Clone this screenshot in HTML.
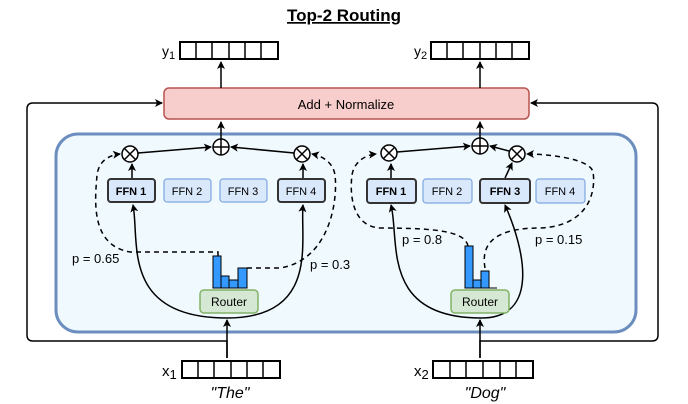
<!DOCTYPE html>
<html><head><style>body{margin:0;background:#fff}svg{display:block}</style></head><body>
<svg width="688" height="404" viewBox="0 0 688 404" xmlns="http://www.w3.org/2000/svg" font-family="Liberation Sans, sans-serif">
<defs>
<marker id="a" markerWidth="8" markerHeight="8" refX="7" refY="4" orient="auto" markerUnits="userSpaceOnUse"><path d="M0,0 L8,4 L0,8 L2,4 Z" fill="#000"/></marker>
</defs>
<text x="344" y="21" text-anchor="middle" font-size="17" font-weight="bold" text-decoration="underline" fill="#000">Top-2 Routing</text>
<!-- output vectors -->
<g fill="#fff" stroke="#000" stroke-width="2">
<rect x="180" y="42" width="98" height="17"/><rect x="431" y="42" width="98" height="17"/>
<rect x="182" y="361" width="98" height="17"/><rect x="433" y="361" width="100" height="17"/>
</g>
<g stroke="#000" stroke-width="1.5">
<path d="M196,42v17M212,42v17M229,42v17M245,42v17M261,42v17"/>
<path d="M447,42v17M463,42v17M480,42v17M496,42v17M512,42v17"/>
<path d="M198,361v17M214,361v17M231,361v17M247,361v17M263,361v17"/>
<path d="M450,361v17M466,361v17M483,361v17M500,361v17M516,361v17"/>
</g>
<text x="162" y="56" font-size="14">y<tspan font-size="11" dy="3">1</tspan></text>
<text x="414" y="56" font-size="14">y<tspan font-size="11" dy="3">2</tspan></text>
<text x="162" y="376" font-size="15">x<tspan font-size="13" dy="3">1</tspan></text>
<text x="414" y="376" font-size="15">x<tspan font-size="13" dy="3">2</tspan></text>
<text x="230" y="398" text-anchor="middle" font-size="16" font-style="italic">"The"</text>
<text x="485" y="398" text-anchor="middle" font-size="16" font-style="italic">"Dog"</text>
<!-- container -->
<rect x="56" y="134" width="580" height="198" rx="22" fill="#f0f9fe" stroke="#6c8ebf" stroke-width="3"/>
<!-- add normalize -->
<rect x="164" y="88" width="365" height="31" rx="5" fill="#f8cecc" stroke="#b85450" stroke-width="1.5"/>
<text x="346" y="109" text-anchor="middle" font-size="13">Add + Normalize</text>
<g fill="none" stroke="#000" stroke-width="1.5">
<path d="M221,88 V62" marker-end="url(#a)"/>
<path d="M480,88 V62" marker-end="url(#a)"/>
<path d="M227,358 V341 H33 Q27,341 27,335 V109 Q27,103 33,103 H162" marker-end="url(#a)"/>
<path d="M480,358 V341 H652 Q658,341 658,335 V109 Q658,103 652,103 H531" marker-end="url(#a)"/>
<path d="M227,358 V320" marker-end="url(#a)"/>
<path d="M480,358 V320" marker-end="url(#a)"/>
<path d="M221,139 V122" marker-end="url(#a)"/>
<path d="M480,139 V122" marker-end="url(#a)"/>
<!-- left -->
<path d="M138,153 L211,147" marker-end="url(#a)"/>
<path d="M294,153 L231,147" marker-end="url(#a)"/>
<path d="M132,178 V164" marker-end="url(#a)"/>
<path d="M303,178 V164" marker-end="url(#a)"/>
<path d="M227,318 C120,318 140,240 133,205" marker-end="url(#a)"/>
<path d="M227,318 C320,318 300,240 303,205" marker-end="url(#a)"/>
<!-- right -->
<path d="M397,152 L470,146" marker-end="url(#a)"/>
<path d="M509,151 L490,146" marker-end="url(#a)"/>
<path d="M391,178 V164" marker-end="url(#a)"/>
<path d="M505,178 L512,163" marker-end="url(#a)"/>
<path d="M481,318 C380,318 400,240 391,205" marker-end="url(#a)"/>
<path d="M481,318 C540,318 525,250 505,205" marker-end="url(#a)"/>
</g>
<!-- dashed -->
<g fill="none" stroke="#000" stroke-width="1.5" stroke-dasharray="5,4">
<path d="M218,256 V252 H130 C90,245 95,200 97,175 C99,160 110,155 120,154" marker-end="url(#a)"/>
<path d="M247,268 H280 C330,260 338,200 335,175 C333,162 322,156 312,154" marker-end="url(#a)"/>
<path d="M468,246 C465,232 440,228 380,228 C350,226 350,190 352,175 C354,162 365,155 376,154" marker-end="url(#a)"/>
<path d="M485,268 C480,240 500,228 540,228 C590,226 596,190 593,172 C590,158 545,154 527,154" marker-end="url(#a)"/>
</g>
<!-- circles -->
<g fill="#fff" stroke="#000" stroke-width="1.5">
<circle cx="221" cy="147" r="8"/><circle cx="480" cy="146" r="8"/>
<circle cx="130" cy="154" r="8"/><circle cx="302" cy="154" r="8"/>
<circle cx="389" cy="153" r="8"/><circle cx="517" cy="154" r="8"/>
</g>
<g stroke="#000" stroke-width="1.5">
<path d="M213,147h16M221,139v16M472,146h16M480,138v16"/>
<path d="M124,148l12,12M136,148l-12,12M296,148l12,12M308,148l-12,12"/>
<path d="M383,147l12,12M395,147l-12,12M511,148l12,12M523,148l-12,12"/>
</g>
<!-- FFN -->
<g font-size="11" text-anchor="middle">
<rect x="108" y="179" width="47" height="23" rx="3" fill="#dae8fc" stroke="#333" stroke-width="2"/><text x="131" y="195" font-weight="bold">FFN 1</text>
<rect x="164" y="179" width="47" height="23" rx="3" fill="#dae8fc" stroke="#7ea6e0" stroke-width="1.2"/><text x="187" y="195">FFN 2</text>
<rect x="220" y="179" width="47" height="23" rx="3" fill="#dae8fc" stroke="#7ea6e0" stroke-width="1.2"/><text x="243" y="195">FFN 3</text>
<rect x="278" y="179" width="47" height="23" rx="3" fill="#dae8fc" stroke="#333" stroke-width="2"/><text x="301" y="195">FFN 4</text>
<rect x="367" y="179" width="49" height="24" rx="3" fill="#dae8fc" stroke="#333" stroke-width="2"/><text x="391" y="195" font-weight="bold">FFN 1</text>
<rect x="423" y="179" width="49" height="24" rx="3" fill="#dae8fc" stroke="#7ea6e0" stroke-width="1.2"/><text x="447" y="195">FFN 2</text>
<rect x="480" y="179" width="50" height="24" rx="3" fill="#dae8fc" stroke="#333" stroke-width="2"/><text x="505" y="195" font-weight="bold">FFN 3</text>
<rect x="536" y="179" width="49" height="24" rx="3" fill="#dae8fc" stroke="#7ea6e0" stroke-width="1.2"/><text x="560" y="195">FFN 4</text>
</g>
<!-- routers -->
<rect x="200" y="290" width="58" height="23" rx="4" fill="#d5e8d4" stroke="#82b366" stroke-width="1.5"/>
<text x="229" y="306" text-anchor="middle" font-size="12">Router</text>
<rect x="451" y="290" width="58" height="23" rx="4" fill="#d5e8d4" stroke="#82b366" stroke-width="1.5"/>
<text x="480" y="306" text-anchor="middle" font-size="12">Router</text>
<!-- bars -->
<g fill="#3399ff" stroke="#000" stroke-width="1">
<rect x="213" y="256" width="8" height="32"/><rect x="221" y="276" width="8" height="12"/><rect x="229" y="280" width="9" height="8"/><rect x="238" y="268" width="9" height="20"/>
<rect x="465" y="246" width="8" height="42"/><rect x="473" y="280" width="8" height="8"/><rect x="481" y="271" width="8" height="17"/>
</g>
<path d="M489,288h8" stroke="#000"/>
<g font-size="13">
<text x="72" y="263">p = 0.65</text>
<text x="310" y="269">p = 0.3</text>
<text x="402" y="244">p = 0.8</text>
<text x="535" y="244">p = 0.15</text>
</g>
</svg>
</body></html>
